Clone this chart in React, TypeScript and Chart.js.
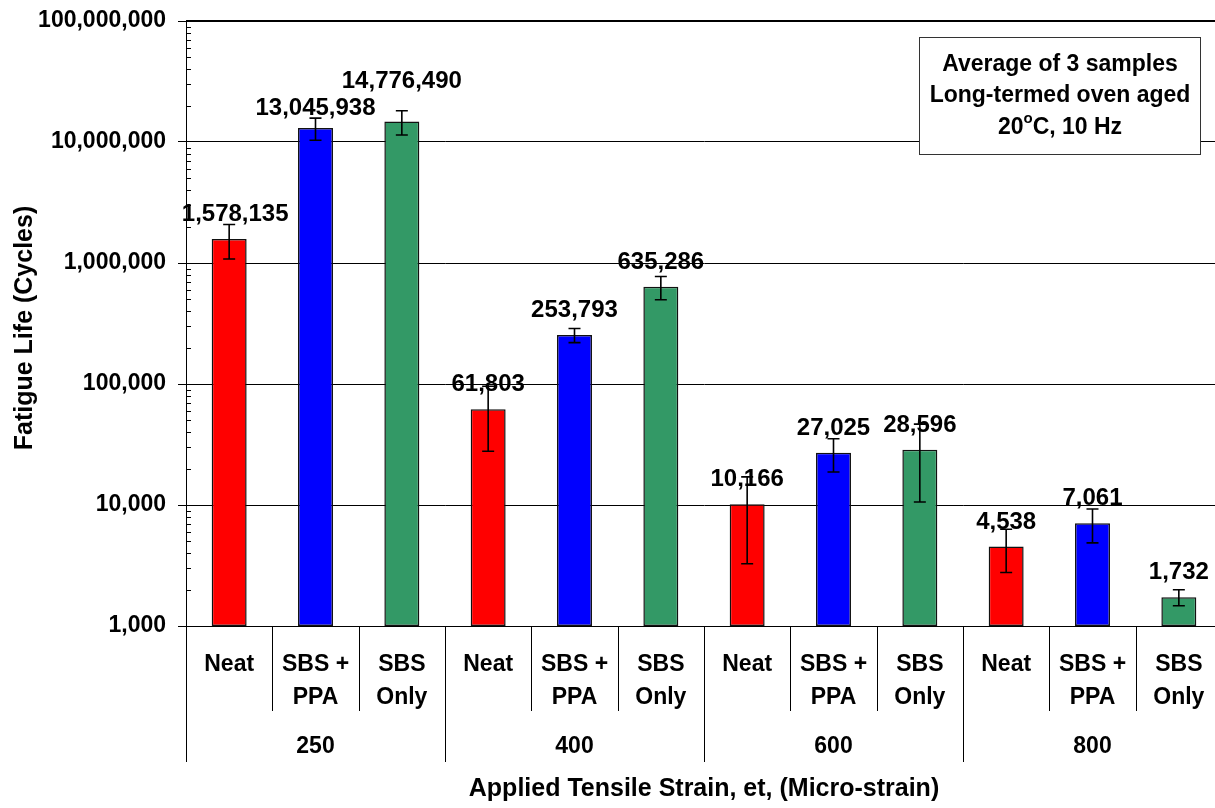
import React, { useEffect, useRef } from "react";
import { Chart, registerables } from "chart.js";

Chart.register(...registerables);

// ---- data ----
const strains = ["250", "400", "600", "800"];
const binderLabels: string[][] = [["Neat"], ["SBS +", "PPA"], ["SBS", "Only"]];
const neatLife = [1578135, 61803, 10166, 4538];
const sbsPpaLife = [13045938, 253793, 27025, 7061];
const sbsOnlyLife = [14776490, 635286, 28596, 1732];
const neatErr = [500000, 34000, 6900, 1770];
const sbsPpaErr = [2700000, 34000, 8300, 2200];
const sbsOnlyErr = [3350000, 138000, 18000, 260];
const yTicks = [1000, 10000, 100000, 1000000, 10000000, 100000000];
const noteLines = ["Average of 3 samples", "Long-termed oven aged"];
const xTitle = "Applied Tensile Strain, et, (Micro-strain)";
const yTitle = "Fatigue Life (Cycles)";

// ---- styles ----
const binderColors = ["#FF0000", "#0000FF", "#339966"];
// label nudges (dx, dy) in px, per bar
const labelNudge: number[][] = [
  [6, 0], [0, 4.5], [0, -15.5],
  [0, 0], [0, 0], [0, 0],
  [0, 0], [0, 0], [0, 0],
  [0, 0], [0, 0], [0, 0],
];

const FONT = "'Liberation Sans', Arial, Helvetica, sans-serif";

const series = [neatLife, sbsPpaLife, sbsOnlyLife];
const errs = [neatErr, sbsPpaErr, sbsOnlyErr];
const catLabels: string[][] = [];
const values: number[] = [];
const errors: number[] = [];
const colors: string[] = [];
strains.forEach((_, g) => {
  binderLabels.forEach((bl, b) => {
    catLabels.push(bl);
    values.push(series[b][g]);
    errors.push(errs[b][g]);
    colors.push(binderColors[b]);
  });
});

const overlayPlugin = {
  id: "overlay",
  afterDatasetsDraw(chart: any) {
    const ctx = chart.ctx as CanvasRenderingContext2D;
    const xs = chart.scales.x;
    const ys = chart.scales.y;
    const area = chart.chartArea;
    ctx.save();
    // top border line
    ctx.strokeStyle = "#000";
    ctx.lineWidth = 2;
    ctx.beginPath();
    ctx.moveTo(area.left, area.top);
    ctx.lineTo(area.right + 20, area.top);
    ctx.stroke();

    // minor ticks on y axis
    ctx.lineWidth = 1;
    for (let d = 3; d < 8; d++) {
      for (let m = 2; m <= 9; m++) {
        const y = Math.round(ys.getPixelForValue(m * Math.pow(10, d))) + 0.5;
        ctx.beginPath();
        ctx.moveTo(area.left, y);
        ctx.lineTo(area.left + 5, y);
        ctx.stroke();
      }
    }

    // error bars
    ctx.lineWidth = 1.6;
    const meta = chart.getDatasetMeta(0);
    values.forEach((v, i) => {
      const cx = meta.data[i].x;
      const yTop = ys.getPixelForValue(v + errors[i]);
      const yBot = ys.getPixelForValue(Math.max(v - errors[i], 1));
      ctx.beginPath();
      ctx.moveTo(cx, yTop);
      ctx.lineTo(cx, yBot);
      ctx.moveTo(cx - 6, yTop);
      ctx.lineTo(cx + 6, yTop);
      ctx.moveTo(cx - 6, yBot);
      ctx.lineTo(cx + 6, yBot);
      ctx.stroke();
    });

    // data labels
    ctx.fillStyle = "#000";
    ctx.font = `bold 24px ${FONT}`;
    ctx.textAlign = "center";
    ctx.textBaseline = "middle";
    values.forEach((v, i) => {
      const cx = meta.data[i].x + labelNudge[i][0];
      const top = ys.getPixelForValue(v);
      ctx.fillText(v.toLocaleString("en-US"), cx, top - 24.5 + labelNudge[i][1]);
    });

    // x-axis category structure
    const catW = xs.getPixelForValue(1) - xs.getPixelForValue(0);
    ctx.lineWidth = 1;
    ctx.strokeStyle = "#000";
    for (let i = 0; i <= values.length; i++) {
      const x = Math.round(area.left + i * catW) + 0.5;
      ctx.beginPath();
      ctx.moveTo(x, area.bottom);
      ctx.lineTo(x, i % 3 === 0 ? 762 : 711);
      ctx.stroke();
    }
    ctx.font = `bold 23px ${FONT}`;
    catLabels.forEach((lines, i) => {
      const cx = xs.getPixelForValue(i);
      lines.forEach((ln, k) => ctx.fillText(ln, cx, 665 + k * 33));
    });
    strains.forEach((s, g) => {
      const cx = area.left + (g * 3 + 1.5) * catW;
      ctx.fillText(s, cx, 747);
    });
    ctx.font = `bold 25px ${FONT}`;
    ctx.fillText(xTitle, (area.left + area.right) / 2, 789);

    // y title
    ctx.save();
    ctx.translate(25, 328);
    ctx.rotate(-Math.PI / 2);
    ctx.fillText(yTitle, 0, 0);
    ctx.restore();

    // note box
    ctx.fillStyle = "#fff";
    ctx.fillRect(919.5, 37.5, 281, 117);
    ctx.strokeStyle = "#333";
    ctx.lineWidth = 1;
    ctx.strokeRect(919.5, 37.5, 281, 117);
    ctx.fillStyle = "#000";
    ctx.font = `bold 23px ${FONT}`;
    const bx = 1060;
    ctx.fillText(noteLines[0], bx, 65);
    ctx.fillText(noteLines[1], bx, 96);
    // "20°C, 10 Hz" with superscript o
    const p1 = "20";
    const p3 = "C, 10 Hz";
    const w1 = ctx.measureText(p1).width;
    const w3 = ctx.measureText(p3).width;
    ctx.font = `bold 15px ${FONT}`;
    const w2 = ctx.measureText("o").width;
    const total = w1 + w2 + w3;
    const x0 = bx - total / 2;
    ctx.textAlign = "left";
    ctx.font = `bold 23px ${FONT}`;
    ctx.fillText(p1, x0, 128);
    ctx.font = `bold 15px ${FONT}`;
    ctx.fillText("o", x0 + w1, 119);
    ctx.font = `bold 23px ${FONT}`;
    ctx.fillText(p3, x0 + w1 + w2, 128);

    ctx.restore();
  },
};

export default function App() {
  const ref = useRef<HTMLCanvasElement | null>(null);
  useEffect(() => {
    if (!ref.current) return;
    const chart = new Chart(ref.current, {
      type: "bar",
      data: {
        labels: catLabels.map((l) => l.join(" ")),
        datasets: [
          {
            data: values,
            backgroundColor: colors,
            borderColor: "#111",
            borderWidth: 1.5,
            borderSkipped: false,
            barPercentage: 0.405,
            categoryPercentage: 1,
          },
        ],
      },
      options: {
        animation: false,
        responsive: false,
        maintainAspectRatio: false,
        layout: { padding: { left: 0, top: 21, right: 8, bottom: 0 } },
        plugins: { legend: { display: false }, tooltip: { enabled: false }, title: { display: false } },
        scales: {
          x: {
            ticks: { display: false },
            grid: { display: false },
            border: { display: true, color: "#000", width: 1 },
            afterFit: (s: any) => {
              s.height = 182;
              s.paddingLeft = 0;
              s.paddingRight = 0;
            },
          },
          y: {
            type: "logarithmic",
            min: 1000,
            max: 100000000,
            afterBuildTicks: (s: any) => {
              s.ticks = yTicks.map((v) => ({ value: v, major: true }));
            },
            afterFit: (s: any) => {
              s.width = 186;
              s.paddingTop = 0;
              s.paddingBottom = 0;
            },
            ticks: {
              color: "#000",
              padding: 12,
              font: { family: FONT, size: 23, weight: "bold" },
              callback: (v: any) => Number(v).toLocaleString("en-US"),
            },
            grid: { color: "#000", lineWidth: 1, tickLength: 8, drawTicks: true },
            border: { display: true, color: "#000", width: 1 },
          },
        },
      } as any,
      plugins: [overlayPlugin],
    });
    return () => chart.destroy();
  }, []);
  return (
    <div style={{ position: "fixed", left: 0, top: 0, width: 1215, height: 808, overflow: "hidden", background: "#fff" }}>
      <canvas ref={ref} width={1230} height={808} style={{ width: 1230, height: 808, display: "block" }} />
    </div>
  );
}
